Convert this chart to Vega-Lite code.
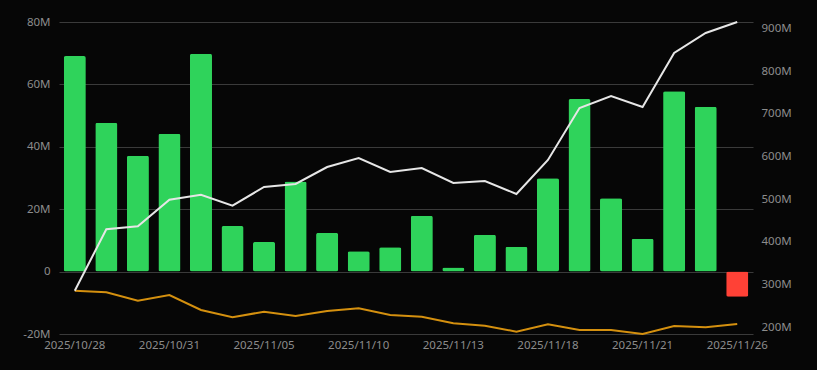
{
  "$schema": "https://vega.github.io/schema/vega-lite/v6.json",
  "width": 694,
  "height": 312,
  "autosize": {"type": "none"},
  "padding": {"left": 59, "top": 22, "right": 64, "bottom": 36},
  "background": "#060606",
  "config": {
    "view": {"stroke": null},
    "axis": {"labelFont": "Noto Sans", "labelColor": "#8c8c8c", "labelFontSize": 11.5, "domain": false, "ticks": false, "title": null}
  },
  "data": {
    "values": [
      {"date": "2025/10/28", "flow": 69.1, "cum": 285.7, "other": 285.7},
      {"date": "2025/10/29", "flow": 47.7, "cum": 429.5, "other": 282.0},
      {"date": "2025/10/30", "flow": 37.1, "cum": 436.5, "other": 262.3},
      {"date": "2025/10/31", "flow": 44.2, "cum": 498.8, "other": 275.6},
      {"date": "2025/11/03", "flow": 69.8, "cum": 510.5, "other": 240.5},
      {"date": "2025/11/04", "flow": 14.6, "cum": 484.8, "other": 223.4},
      {"date": "2025/11/05", "flow": 9.5, "cum": 528.6, "other": 236.5},
      {"date": "2025/11/06", "flow": 28.9, "cum": 535.6, "other": 226.5},
      {"date": "2025/11/07", "flow": 12.4, "cum": 575.4, "other": 238.2},
      {"date": "2025/11/10", "flow": 6.5, "cum": 596.5, "other": 244.5},
      {"date": "2025/11/11", "flow": 7.8, "cum": 563.7, "other": 228.8},
      {"date": "2025/11/12", "flow": 17.9, "cum": 573.1, "other": 224.8},
      {"date": "2025/11/13", "flow": 1.3, "cum": 538.0, "other": 209.4},
      {"date": "2025/11/14", "flow": 11.8, "cum": 542.6, "other": 203.7},
      {"date": "2025/11/17", "flow": 8.0, "cum": 512.2, "other": 189.7},
      {"date": "2025/11/18", "flow": 29.9, "cum": 591.9, "other": 207.0},
      {"date": "2025/11/19", "flow": 55.3, "cum": 713.7, "other": 193.7},
      {"date": "2025/11/20", "flow": 23.5, "cum": 741.8, "other": 193.7},
      {"date": "2025/11/21", "flow": 10.5, "cum": 716.0, "other": 184.3},
      {"date": "2025/11/24", "flow": 57.8, "cum": 842.4, "other": 203.0},
      {"date": "2025/11/25", "flow": 52.8, "cum": 889.3, "other": 200.0},
      {"date": "2025/11/26", "flow": -8.1, "cum": 915.0, "other": 207.7}
    ]
  },
  "encoding": {
    "x": {
      "field": "date",
      "type": "ordinal",
      "sort": null,
      "scale": {"paddingInner": 0.3, "paddingOuter": 0.15},
      "axis": {
        "labelAngle": 0,
        "labelPadding": 5,
        "values": ["2025/10/28", "2025/10/31", "2025/11/05", "2025/11/10", "2025/11/13", "2025/11/18", "2025/11/21", "2025/11/26"]
      }
    }
  },
  "layer": [
    {
      "mark": {"type": "bar", "cornerRadius": 2},
      "encoding": {
        "y": {
          "field": "flow",
          "type": "quantitative",
          "scale": {"domain": [-20, 80], "nice": false},
          "axis": {
            "orient": "left",
            "values": [-20, 0, 20, 40, 60, 80],
            "labelExpr": "datum.value == 0 ? '0' : datum.value + 'M'",
            "labelPadding": 9,
            "grid": true,
            "gridColor": "#3a3a3a",
            "gridWidth": 1
          }
        },
        "color": {
          "condition": {"test": "datum.flow < 0", "value": "#ff4136"},
          "value": "#2fd35b"
        }
      }
    },
    {
      "layer": [
        {
          "mark": {"type": "line", "color": "#d4900f", "strokeWidth": 2},
          "encoding": {
            "y": {
              "field": "other",
              "type": "quantitative",
              "scale": {"domain": [184.3, 915], "nice": false, "zero": false},
              "axis": {
                "orient": "right",
                "values": [200, 300, 400, 500, 600, 700, 800, 900],
                "labelExpr": "datum.value + 'M'",
                "labelPadding": 8,
                "grid": false
              }
            }
          }
        },
        {
          "mark": {"type": "line", "color": "#e6e6e6", "strokeWidth": 2},
          "encoding": {
            "y": {"field": "cum", "type": "quantitative"}
          }
        }
      ]
    }
  ],
  "resolve": {"scale": {"y": "independent"}}
}
